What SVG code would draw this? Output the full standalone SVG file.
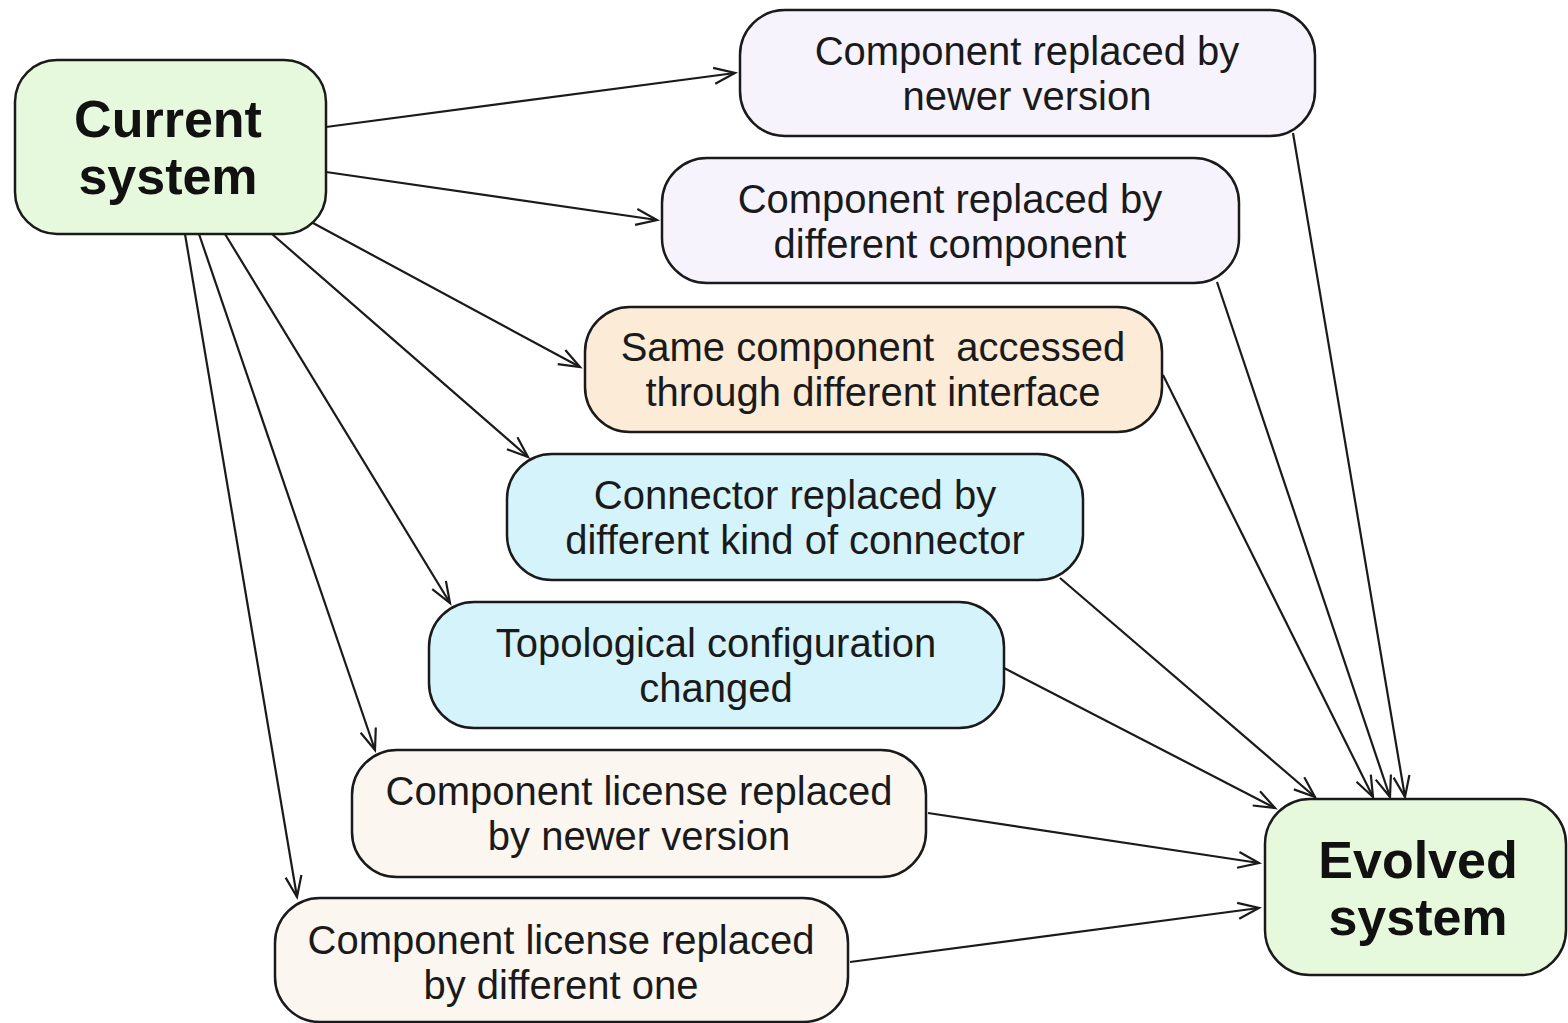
<svg xmlns="http://www.w3.org/2000/svg" width="1568" height="1023" viewBox="0 0 1568 1023">
<style>
.box{stroke:#1a1a1a;stroke-width:2.5}
.sys{fill:#e7f9dd}
.lav{fill:#f6f3fc}
.peach{fill:#fcebd6}
.cyan{fill:#d4f3fb}
.cream{fill:#fcf6f1}
.t{font-family:"Liberation Sans",Arial,sans-serif;font-size:40px;fill:#1a1a1a;text-anchor:middle}
.b{font-family:"Liberation Sans",Arial,sans-serif;font-size:52px;font-weight:bold;fill:#111;text-anchor:middle}
.c{stroke:#1a1a1a;stroke-width:2.2;fill:none;marker-end:url(#ah)}
</style>
<defs>
<marker id="ah" markerUnits="userSpaceOnUse" markerWidth="26" markerHeight="22" viewBox="0 0 26 22" refX="23" refY="11" orient="auto">
<path d="M2,3 L23,11 L2,19" fill="none" stroke="#1a1a1a" stroke-width="2.2"/>
</marker>
</defs>
<rect width="1568" height="1023" fill="#fff"/>
<g id="connectors">
<line class="c" x1="326" y1="127" x2="735" y2="73"/>
<line class="c" x1="326" y1="172" x2="657" y2="220"/>
<line class="c" x1="313" y1="223" x2="580" y2="367"/>
<line class="c" x1="272" y1="234" x2="528" y2="457"/>
<line class="c" x1="225" y1="234" x2="450" y2="603"/>
<line class="c" x1="199" y1="234" x2="375" y2="750"/>
<line class="c" x1="185" y1="234" x2="297" y2="897"/>
<line class="c" x1="1293" y1="133" x2="1405" y2="797"/>
<line class="c" x1="1217" y1="282" x2="1390" y2="797"/>
<line class="c" x1="1163" y1="375" x2="1373" y2="797"/>
<line class="c" x1="1060" y1="578" x2="1315" y2="797"/>
<line class="c" x1="1004" y1="668" x2="1275" y2="808"/>
<line class="c" x1="928" y1="813" x2="1259" y2="863"/>
<line class="c" x1="850" y1="962" x2="1259" y2="908"/>
</g>
<g id="current">
<rect class="box sys" x="15" y="60" width="311" height="174" rx="42"/>
<text class="b" x="168" y="137">Current</text>
<text class="b" x="168" y="194">system</text>
</g>
<g id="evolved">
<rect class="box sys" x="1265" y="799" width="301" height="176" rx="45"/>
<text class="b" x="1418" y="878">Evolved</text>
<text class="b" x="1418" y="935">system</text>
</g>
<g id="n1">
<rect class="box lav" x="740" y="10" width="575" height="126" rx="45"/>
<text class="t" x="1027" y="65">Component replaced by</text>
<text class="t" x="1027" y="110">newer version</text>
</g>
<g id="n2">
<rect class="box lav" x="662" y="158" width="577" height="125" rx="45"/>
<text class="t" x="950" y="213">Component replaced by</text>
<text class="t" x="950" y="258">different component</text>
</g>
<g id="n3">
<rect class="box peach" x="585" y="307" width="577" height="125" rx="45"/>
<text class="t" x="873" y="361" xml:space="preserve">Same component  accessed</text>
<text class="t" x="873" y="406">through different interface</text>
</g>
<g id="n4">
<rect class="box cyan" x="507" y="454" width="576" height="126" rx="45"/>
<text class="t" x="795" y="509">Connector replaced by</text>
<text class="t" x="795" y="554">different kind of connector</text>
</g>
<g id="n5">
<rect class="box cyan" x="429" y="602" width="575" height="126" rx="45"/>
<text class="t" x="716" y="657">Topological configuration</text>
<text class="t" x="716" y="702">changed</text>
</g>
<g id="n6">
<rect class="box cream" x="352" y="750" width="574" height="127" rx="45"/>
<text class="t" x="639" y="805">Component license replaced</text>
<text class="t" x="639" y="850">by newer version</text>
</g>
<g id="n7">
<rect class="box cream" x="275" y="898" width="573" height="124" rx="45"/>
<text class="t" x="561" y="954">Component license replaced</text>
<text class="t" x="561" y="999">by different one</text>
</g>
</svg>
